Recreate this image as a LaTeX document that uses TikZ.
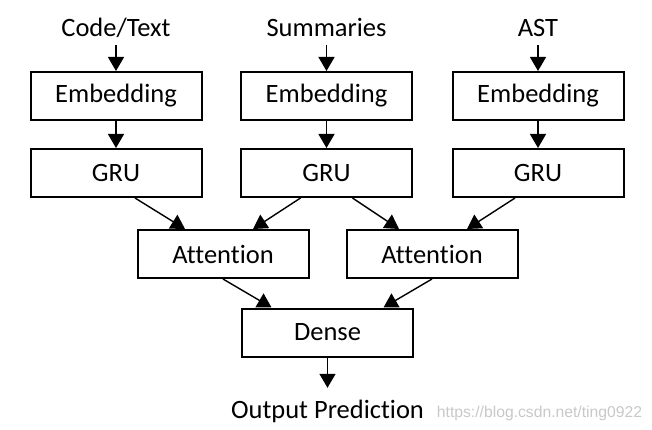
\documentclass[tikz,border=0pt]{standalone}
\usepackage{fontspec}
\setmainfont[Ligatures=NoCommon]{Carlito}
\newfontfamily\wmfont{Liberation Sans}
\usetikzlibrary{arrows.meta,positioning,calc}
\definecolor{wmgray}{RGB}{200,200,200}

\begin{document}
\begin{tikzpicture}[x=1pt, y=-1pt, font=\fontsize{26.5}{30}\selectfont,
  box/.style={draw=black, line width=2pt, fill=white, minimum width=171pt, minimum height=48pt, inner sep=2pt},
  lbl/.style={inner sep=2pt, anchor=base, text height=19pt, text depth=6pt},
  arr/.style={-{Triangle[length=14pt,width=16pt]}, line width=1.4pt, black}]
\useasboundingbox (0,0) rectangle (652,430);
% inputs
\node[lbl] (in1) at (116,37) {Code/Text};
\node[lbl] (in2) at (326.5,37) {Summaries};
\node[lbl] (in3) at (538,37) {AST};
% embedding and GRU rows
\node[box] (emb1) at (116,96) {Embedding};
\node[box] (emb2) at (326.5,96) {Embedding};
\node[box] (emb3) at (538,96) {Embedding};
\node[box] (gru1) at (116,173) {GRU};
\node[box] (gru2) at (326.5,173) {GRU};
\node[box] (gru3) at (538,173) {GRU};
% attention and output
\node[box] (att1) at (223,254) {Attention};
\node[box] (att2) at (432,254) {Attention};
\node[box] (dense) at (327.5,332.5) {Dense};
\node[lbl, text height=28pt] (out) at (327.5,418) {Output Prediction};
\node[lbl, text=wmgray, font=\wmfont\fontsize{15.7}{18}\selectfont] (wm) at (539.5,417) {https://blog.csdn.net/ting0922};
\draw[arr] (in1) -- (emb1);
\draw[arr] (in2) -- (emb2);
\draw[arr] (in3) -- (emb3);
\draw[arr] (emb1) -- (gru1);
\draw[arr] (emb2) -- (gru2);
\draw[arr] (emb3) -- (gru3);
\draw[arr] ([xshift=19pt]gru1.south) -- ([xshift=-38pt]att1.north);
\draw[arr] ([xshift=-26pt]gru2.south) -- ([xshift=30pt]att1.north);
\draw[arr] ([xshift=26pt]gru2.south) -- ([xshift=-33pt]att2.north);
\draw[arr] ([xshift=-23pt]gru3.south) -- ([xshift=35pt]att2.north);
\draw[arr] (att1.south) -- ([xshift=-56pt]dense.north);
\draw[arr] (att2.south) -- ([xshift=56pt]dense.north);
\draw[arr] (dense) -- (out);
\end{tikzpicture}
\end{document}
